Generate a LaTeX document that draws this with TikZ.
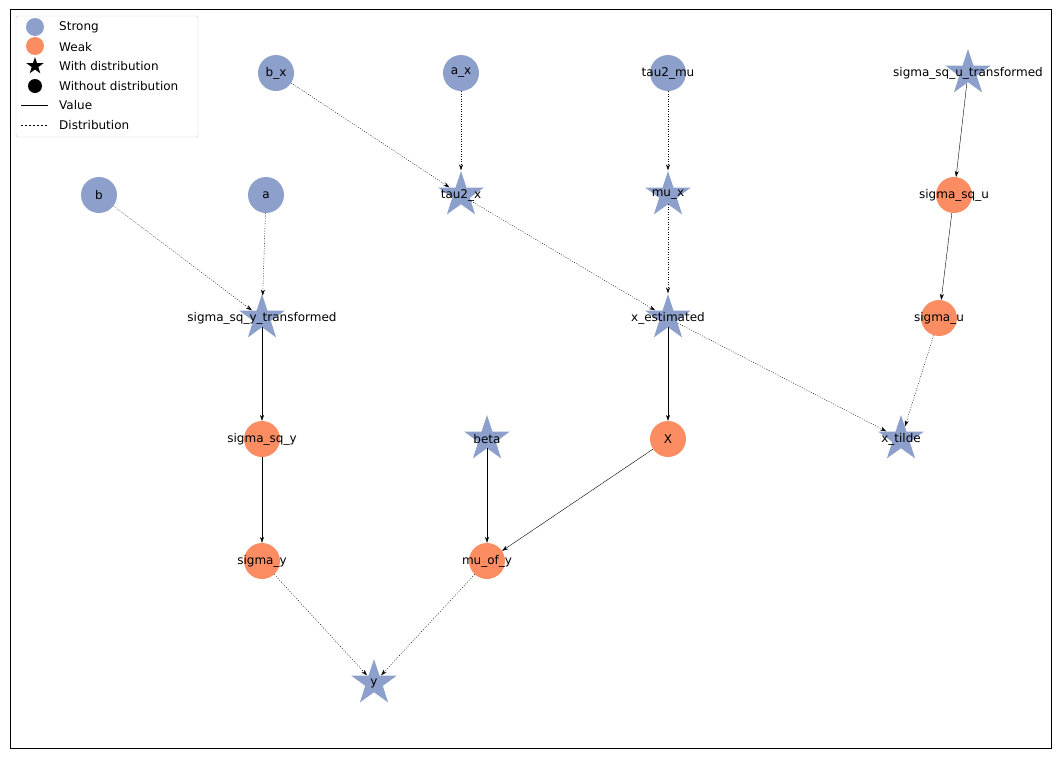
\documentclass[tikz,border=0pt]{standalone}
\usepackage{fontspec}
\setmainfont{DejaVu Sans}
\usetikzlibrary{shapes.geometric,arrows.meta}
\definecolor{strong}{HTML}{8DA0CB}
\definecolor{weak}{HTML}{FC8D62}
\tikzset{
  lbl/.style={font=\fontsize{12}{14}\selectfont, inner sep=0},
  circ/.style={circle, minimum size=36pt, inner sep=0},
  starn/.style={star, star points=5, star point ratio=2.6, minimum size=48pt, inner sep=0},
  val/.style={-{Stealth[length=6pt,width=4pt]}, thin},
  dist/.style={val, dash pattern=on 1pt off 1.5pt},
}
\begin{document}
\begin{tikzpicture}[x=1pt,y=-1pt]
\useasboundingbox (0,0) rectangle (1060,758);
\draw[thin] (10,9) rectangle (1051,748);
% nodes
\node[circ, fill=strong, label={[lbl]center:b\_x}] (bx) at (276,73) {};
\node[circ, fill=strong, label={[lbl]center:a\_x}] (ax) at (461,73) {};
\node[circ, fill=strong, label={[lbl]center:tau2\_mu}] (tmu) at (668,73) {};
\node[starn, fill=strong, label={[lbl]center:sigma\_sq\_u\_transformed}] (ssut) at (968,73) {};
\node[circ, fill=strong, label={[lbl]center:b}] (b) at (99,195) {};
\node[circ, fill=strong, label={[lbl]center:a}] (a) at (266,195) {};
\node[starn, fill=strong, label={[lbl]center:tau2\_x}] (tx) at (461,195) {};
\node[starn, fill=strong, label={[lbl]center:mu\_x}] (mux) at (668,195) {};
\node[circ, fill=weak, label={[lbl]center:sigma\_sq\_u}] (ssu) at (954,195) {};
\node[starn, fill=strong, label={[lbl]center:sigma\_sq\_y\_transformed}] (ssyt) at (262,318) {};
\node[starn, fill=strong, label={[lbl]center:x\_estimated}] (xe) at (668,318) {};
\node[circ, fill=weak, label={[lbl]center:sigma\_u}] (su) at (939,318) {};
\node[circ, fill=weak, label={[lbl]center:sigma\_sq\_y}] (ssy) at (262,439) {};
\node[starn, fill=strong, label={[lbl]center:beta}] (beta) at (487,439) {};
\node[circ, fill=weak, label={[lbl]center:X}] (X) at (668,439) {};
\node[starn, fill=strong, label={[lbl]center:x\_tilde}] (xt) at (901,439) {};
\node[circ, fill=weak, label={[lbl]center:sigma\_y}] (sy) at (262,561) {};
\node[circ, fill=weak, label={[lbl]center:mu\_of\_y}] (muy) at (487,561) {};
\node[starn, fill=strong, label={[lbl]center:y}] (y) at (374,683) {};
% edges
\draw[dist] (bx) -- (tx);
\draw[dist] (ax) -- (tx);
\draw[dist] (tmu) -- (mux);
\draw[dist] (b) -- (ssyt);
\draw[dist] (a) -- (ssyt);
\draw[dist] (tx) -- (xe);
\draw[dist] (mux) -- (xe);
\draw[dist] (xe) -- (xt);
\draw[dist] (su) -- (xt);
\draw[dist] (sy) -- (y);
\draw[dist] (muy) -- (y);
\draw[val] (ssut) -- (ssu);
\draw[val] (ssu) -- (su);
\draw[val] (ssyt) -- (ssy);
\draw[val] (ssy) -- (sy);
\draw[val] (xe) -- (X);
\draw[val] (beta) -- (muy);
\draw[val] (X) -- (muy);
% legend
\draw[black!20, rounded corners=2pt, fill=white] (16,16) rectangle (198,137);
\fill[strong] (35,27) circle (9);
\fill[weak] (35,46) circle (9);
\node[star, star points=5, star point ratio=2.6, minimum size=18pt, inner sep=0, fill=black] (lstar) at (35,66) {};
\fill[black] (35,86) circle (7);
\draw[thick] (21,105) -- (48,105);
\draw[thick, dash pattern=on 1.5pt off 2.5pt] (21,125) -- (48,125);
\foreach \t [count=\i] in {Strong, Weak, With distribution, Without distribution, Value, Distribution}
  \node[lbl, anchor=west] (leg\i) at (59,{27+19.6*(\i-1)}) {\t};
\end{tikzpicture}
\end{document}
